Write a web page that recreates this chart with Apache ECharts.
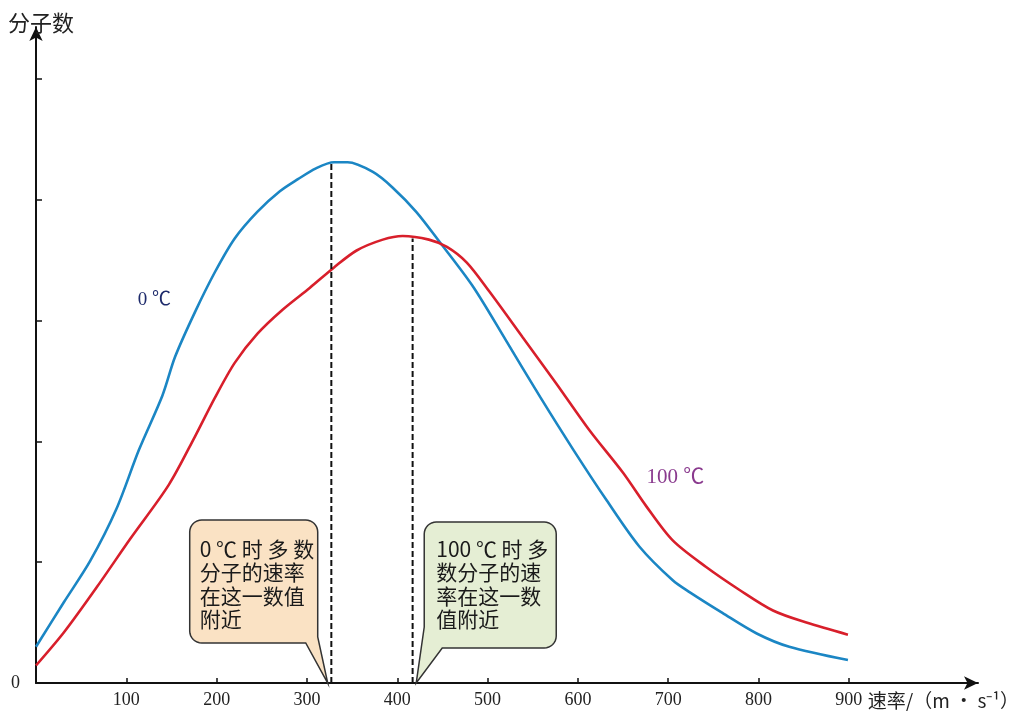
<!DOCTYPE html>
<html>
<head>
<meta charset="utf-8">
<script src="https://cdn.jsdelivr.net/npm/echarts@6/dist/echarts.min.js"></script>
<style>
html,body{margin:0;padding:0;background:#fff;}
#chart{width:1019px;height:711px;}
</style>
</head>
<body>
<div id="chart"></div>
<script>
// Speed (m/s) and relative molecule count
const speed0C = [0,31,60,89,114,140,154,176,198,220,245,270,290,310,330,345,373,395,421,447,484,520,558,595,632,668,705,724,760,798,834,899];
const count0C = [0.30,0.67,1.01,1.44,1.93,2.38,2.70,3.07,3.40,3.68,3.90,4.07,4.17,4.26,4.31,4.31,4.23,4.10,3.90,3.65,3.28,2.84,2.37,1.93,1.51,1.13,0.85,0.75,0.58,0.41,0.30,0.19];
const speed100C = [0,31,67,104,147,176,198,220,245,273,303,330,355,384,406,435,455,477,502,539,576,613,650,676,705,742,779,816,853,899];
const count100C = [0.145,0.42,0.79,1.19,1.64,2.04,2.36,2.65,2.89,3.09,3.27,3.44,3.58,3.67,3.70,3.67,3.61,3.48,3.24,2.86,2.48,2.09,1.74,1.46,1.18,0.96,0.77,0.60,0.50,0.40];
const peak0C = [327, 4.30];
const peak100C = [417, 3.68];
const xTickValues = [100,200,300,400,500,600,700,800,900];
const yTickValues = [1,2,3,4,5];
const yLabelValues = [0];
const xAxisTitle = '速率/（m · s⁻¹）';
const yAxisTitle = '分子数';
const label0C = '0 ℃';
const label100C = '100 ℃';
const note0C = '0 ℃ 时 多 数\n分子的速率\n在这一数值\n附近';
const note100C = '100 ℃ 时 多\n数分子的速\n率在这一数\n值附近';
const noteTip0C = [323, 0];
const noteTip100C = [421, 0];
const labelPos0C = [131, 3.17];
const labelPos100C = [708, 1.70];

const zip = (xs, ys) => xs.map((x, i) => [x, ys[i]]);

const chart = echarts.init(document.getElementById('chart'), null, {renderer: 'canvas'});
const serif = '"Liberation Serif", "Noto Sans CJK SC", serif';
const cjk = '"Noto Sans CJK SC", sans-serif';

chart.setOption({
  animation: false,
  backgroundColor: '#ffffff',
  grid: {left: 36, right: 41, top: 27, bottom: 28},
  xAxis: {
    type: 'value', min: 0, max: 1043, interval: 100,
    splitLine: {show: false},
    axisLine: {lineStyle: {color: '#111', width: 2}, symbol: ['none', 'arrow'], symbolSize: [10, 14]},
    axisTick: {show: true, inside: true, length: 5, lineStyle: {color: '#111', width: 1.5}, customValues: xTickValues},
    axisLabel: {customValues: xTickValues, margin: 8, color: '#222', fontSize: 18, fontFamily: serif}
  },
  yAxis: {
    type: 'value', min: 0, max: 5.43, interval: 1,
    splitLine: {show: false},
    axisLine: {lineStyle: {color: '#111', width: 2}, symbol: ['none', 'arrow'], symbolSize: [10, 14]},
    axisTick: {show: true, inside: true, length: 6, lineStyle: {color: '#111', width: 1.5}, customValues: yTickValues},
    axisLabel: {customValues: yLabelValues, margin: 16, color: '#222', fontSize: 18, fontFamily: serif}
  },
  series: [
    {type: 'line', name: '0C', data: zip(speed0C, count0C), smooth: 0.3, showSymbol: false,
     lineStyle: {color: '#1b86c4', width: 2.6}, z: 3},
    {type: 'line', name: '100C', data: zip(speed100C, count100C), smooth: 0.3, showSymbol: false,
     lineStyle: {color: '#d81f2b', width: 2.6}, z: 3},
    {type: 'line', name: 'peak0', data: [[peak0C[0], 0], peak0C], showSymbol: false,
     lineStyle: {color: '#111', width: 2, type: [6, 3]}, z: 4},
    {type: 'line', name: 'peak100', data: [[peak100C[0], 0], peak100C], showSymbol: false,
     lineStyle: {color: '#111', width: 2, type: [6, 3]}, z: 4}
  ]
});

function arc(cx, cy, r, a0, a1, n) {
  const pts = [];
  for (let i = 0; i <= n; i++) {
    const a = (a0 + (a1 - a0) * i / n) * Math.PI / 180;
    pts.push([cx + r * Math.cos(a), cy + r * Math.sin(a)]);
  }
  return pts;
}

function bubbleRight(tip) {
  const [tx, ty] = tip;
  const L = tx - 138, R = tx - 10, T = ty - 163, B = ty - 40, r = 12;
  let p = [];
  p.push([L + r, T], [R - r, T]);
  p = p.concat(arc(R - r, T + r, r, -90, 0, 8));
  p.push([R, B - 6], [tx, ty], [R - 12, B], [L + r, B]);
  p = p.concat(arc(L + r, B - r, r, 90, 180, 8));
  p.push([L, T + r]);
  p = p.concat(arc(L + r, T + r, r, 180, 270, 8));
  return p;
}

function bubbleLeft(tip) {
  const [tx, ty] = tip;
  const L = tx + 8, R = tx + 140, T = ty - 161, B = ty - 35, r = 12;
  let p = [];
  p.push([L + r, T], [R - r, T]);
  p = p.concat(arc(R - r, T + r, r, -90, 0, 8));
  p.push([R, B - r]);
  p = p.concat(arc(R - r, B - r, r, 0, 90, 8));
  p.push([L + 18, B], [tx, ty], [L, B - 21], [L, T + r]);
  p = p.concat(arc(L + r, T + r, r, 180, 270, 8));
  return p;
}

const tip0 = chart.convertToPixel({gridIndex: 0}, noteTip0C);
const tip100 = chart.convertToPixel({gridIndex: 0}, noteTip100C);
const lp0 = chart.convertToPixel({gridIndex: 0}, labelPos0C);
const lp100 = chart.convertToPixel({gridIndex: 0}, labelPos100C);
const origin = chart.convertToPixel({gridIndex: 0}, [900, 0]);

chart.setOption({
  graphic: [
    {type: 'polygon', shape: {points: bubbleRight(tip0)}, style: {fill: '#fae2c4', stroke: '#333', lineWidth: 1.5}, z: 2},
    {type: 'polygon', shape: {points: bubbleLeft(tip100)}, style: {fill: '#e5eed4', stroke: '#333', lineWidth: 1.5}, z: 2},
    {type: 'text', x: tip0[0] - 128, y: tip0[1] - 146, z: 5,
     style: {text: note0C, font: '21px ' + cjk, lineHeight: 23.5, fill: '#1a1a1a', textVerticalAlign: 'top'}},
    {type: 'text', x: tip100[0] + 20, y: tip100[1] - 146, z: 5,
     style: {text: note100C, font: '21px ' + cjk, lineHeight: 23.5, fill: '#1a1a1a', textVerticalAlign: 'top'}},
    {type: 'text', x: lp0[0], y: lp0[1], z: 5,
     style: {text: label0C, font: '19px ' + serif, fill: '#1d2a6b', textAlign: 'center', textVerticalAlign: 'middle'}},
    {type: 'text', x: lp100[0], y: lp100[1], z: 5,
     style: {text: label100C, font: '21px ' + serif, fill: '#8a3a8e', textAlign: 'center', textVerticalAlign: 'middle'}},
    {type: 'text', x: 8, y: 23, z: 5,
     style: {text: yAxisTitle, font: '22px ' + cjk, fill: '#222', textVerticalAlign: 'middle'}},
    {type: 'text', x: origin[0] + 19, y: origin[1] + 18, z: 5,
     style: {text: xAxisTitle, font: '19px ' + cjk, fill: '#222', textVerticalAlign: 'middle'}}
  ]
});
</script>
</body>
</html>
